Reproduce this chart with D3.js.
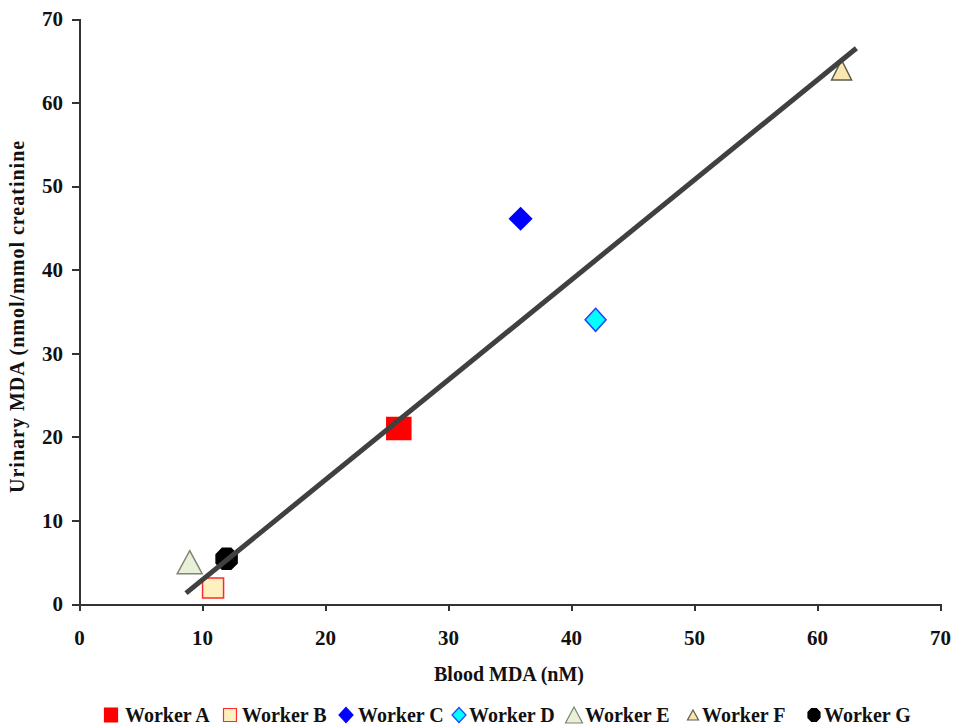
<html>
<head>
  <meta charset="utf8">
  <title>Blood vs Urinary MDA</title>
  <style>
  * { margin: 0; padding: 0; }
  body { background: #fff; }
  text { font-family: "Liberation Serif", "Times New Roman", serif; font-weight: bold; fill: #111; }
  .axis path, .axis line { stroke: #333; stroke-width: 2px; shape-rendering: crispEdges; }
  .axis text { font-size: 21px; }
  .trend { fill: none; stroke: #404040; stroke-width: 5px; }
  </style>
</head>
<body>
  <script src="https://cdn.jsdelivr.net/npm/d3@7"></script>
  <script>

  // workers and their readings (blood MDA nM, urinary MDA)
  var workers = ['Worker A', 'Worker B', 'Worker C', 'Worker D', 'Worker E', 'Worker F', 'Worker G']
  var bloodMDA = [26.0, 10.9, 35.9, 42.0, 9.0, 62.0, 12.0]
  var urinaryMDA = [21.0, 1.9, 46.1, 34.0, 5.0, 63.9, 5.4]
  // linear trendline end points
  var trendX = [8.7, 63.2]
  var trendY = [1.3, 66.5]
  var xTicks = [0, 10, 20, 30, 40, 50, 60, 70]
  var yTicks = [0, 10, 20, 30, 40, 50, 60, 70]

  // marker look: shape, width, height in plot / legend
  var markers = [
    {shape: 'square', w: 24, h: 22, lw: 13, lh: 14, fill: '#ff0000', stroke: '#ff0000'},
    {shape: 'square', w: 21, h: 20, lw: 13, lh: 13, fill: '#fff0c0', stroke: '#ff2a2a'},
    {shape: 'diamond', w: 22, h: 22, lw: 14, lh: 15, fill: '#0000ff', stroke: '#0000ff'},
    {shape: 'diamond', w: 21, h: 23, lw: 14, lh: 15, fill: '#00ffff', stroke: '#2040ff'},
    {shape: 'triangle', w: 25, h: 23, lw: 17, lh: 16, fill: '#e8f0d8', stroke: '#7c8474'},
    {shape: 'triangle', w: 20, h: 20, lw: 11, lh: 10, fill: '#f8e8b0', stroke: '#5c5c4c'},
    {shape: 'octagon', w: 21, h: 21, lw: 12, lh: 13, fill: '#000', stroke: '#000'}
  ]
  var legendX = [111, 230, 346, 459, 574, 693, 814]
  var legendTextX = [125, 242, 358, 469, 585, 702, 824]

  var W = 955, H = 727
  var margin = {top: 19, left: 79}
  var width = 940 - margin.left, height = 604 - margin.top

  var svg = d3.select('body').append('svg')
    .attr('width', W)
    .attr('height', H)

  var g = svg.append('g')
    .attr('transform', 'translate(' + margin.left + ',' + margin.top + ')')

  var x = d3.scaleLinear().domain([0, 70]).range([0, width])
  var y = d3.scaleLinear().domain([0, 70]).range([height, 0])

  g.append('g')
    .attr('class', 'axis')
    .attr('transform', 'translate(0,' + height + ')')
    .call(d3.axisBottom(x).tickValues(xTicks).tickSize(7).tickSizeOuter(7).tickPadding(19))

  g.append('g')
    .attr('class', 'axis')
    .call(d3.axisLeft(y).tickValues(yTicks).tickSize(7).tickSizeOuter(7).tickPadding(9))

  function markerPath(m, w, h) {
    var a = w / 2, b = h / 2
    if (m.shape === 'square') return `M${-a},${-b}H${a}V${b}H${-a}Z`
    if (m.shape === 'diamond') return `M0,${-b}L${a},0L0,${b}L${-a},0Z`
    if (m.shape === 'triangle') return `M0,${-b}L${a},${b}L${-a},${b}Z`
    var pts = d3.range(8).map(i => {
      var t = Math.PI / 8 + i * Math.PI / 4
      return [a * Math.cos(t) / Math.cos(Math.PI / 8), b * Math.sin(t) / Math.cos(Math.PI / 8)]
    })
    return 'M' + pts.join('L') + 'Z'
  }

  var pointsData = workers.map((w, i) => ({name: w, x: bloodMDA[i], y: urinaryMDA[i], m: markers[i]}))

  // markers first, the trendline goes over them
  g.selectAll('.pt')
    .data(pointsData)
    .enter()
    .append('path')
    .attr('class', 'pt')
    .attr('transform', d => 'translate(' + x(d.x) + ',' + y(d.y) + ')')
    .attr('d', d => markerPath(d.m, d.m.w, d.m.h))
    .style('fill', d => d.m.fill)
    .style('stroke', d => d.m.stroke)
    .style('stroke-width', 1.5)

  g.append('path')
    .attr('class', 'trend')
    .attr('d', d3.line().x(d => x(d[0])).y(d => y(d[1]))(trendX.map((v, i) => [v, trendY[i]])))

  // axis titles
  svg.append('text')
    .attr('x', 509)
    .attr('y', 681)
    .attr('text-anchor', 'middle')
    .style('font-size', '20px')
    .text('Blood MDA (nM)')

  svg.append('text')
    .attr('transform', 'translate(24,493) rotate(-90)')
    .attr('text-anchor', 'start')
    .style('font-size', '20px')
    .style('letter-spacing', '1px')
    .text('Urinary MDA (nmol/mmol creatinine')

  // legend
  var legend = svg.selectAll('.legend')
    .data(pointsData)
    .enter()
    .append('g')
    .attr('class', 'legend')

  legend.append('path')
    .attr('transform', (d, i) => 'translate(' + legendX[i] + ',715)')
    .attr('d', d => markerPath(d.m, d.m.lw, d.m.lh))
    .style('fill', d => d.m.fill)
    .style('stroke', d => d.m.stroke)
    .style('stroke-width', 1.2)

  legend.append('text')
    .attr('x', (d, i) => legendTextX[i])
    .attr('y', 722)
    .style('font-size', '20px')
    .text(d => d.name)
  </script>
</body>
</html>
